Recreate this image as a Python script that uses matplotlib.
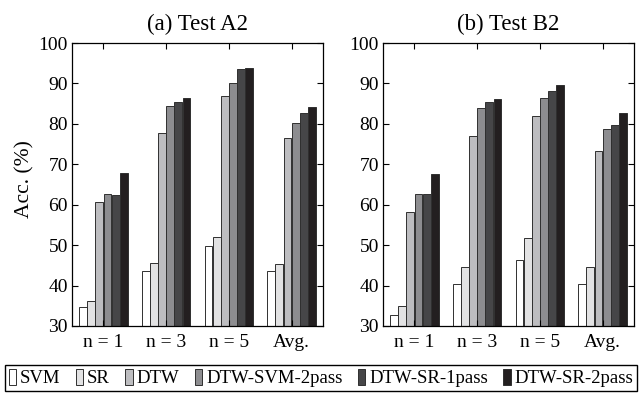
import numpy as np
import matplotlib
matplotlib.use("Agg")
import matplotlib.pyplot as plt

plt.rcParams["font.family"] = ["Liberation Serif", "DejaVu Serif"]

groups = ["n = 1", "n = 3", "n = 5", "Avg."]
methods = ["SVM", "SR", "DTW", "DTW-SVM-2pass", "DTW-SR-1pass", "DTW-SR-2pass"]
colors = ["#ffffff", "#e2e2e3", "#bdbdc0", "#8d8d90", "#464648", "#231f20"]

# accuracy (%) per method, one entry per group
test_a2 = {
    "SVM": [34.8, 43.5, 49.9, 43.5],
    "SR": [36.2, 45.5, 51.9, 45.3],
    "DTW": [60.7, 77.8, 86.8, 76.6],
    "DTW-SVM-2pass": [62.6, 84.3, 90.0, 80.1],
    "DTW-SR-1pass": [62.5, 85.4, 93.6, 82.6],
    "DTW-SR-2pass": [67.9, 86.3, 93.8, 84.2],
}
test_b2 = {
    "SVM": [32.6, 40.4, 46.4, 40.3],
    "SR": [35.0, 44.7, 51.7, 44.7],
    "DTW": [58.2, 77.0, 82.0, 73.4],
    "DTW-SVM-2pass": [62.7, 83.9, 86.5, 78.8],
    "DTW-SR-1pass": [62.7, 85.4, 88.2, 79.8],
    "DTW-SR-2pass": [67.6, 86.2, 89.6, 82.6],
}
titles = ["(a) Test A2", "(b) Test B2"]

fig = plt.figure(figsize=(6.41, 3.96), dpi=100)
ax1 = fig.add_axes([72 / 641, 1 - 326 / 396, 251 / 641, 283 / 396])
ax2 = fig.add_axes([383 / 641, 1 - 326 / 396, 251 / 641, 283 / 396])

x = np.arange(1, len(groups) + 1)
w = 0.125
handles = []
for ax, data, title in zip([ax1, ax2], [test_a2, test_b2], titles):
    for i, m in enumerate(methods):
        b = ax.bar(x + (i - 2.5) * 0.13, data[m], width=w, bottom=0,
                   color=colors[i], edgecolor="#303030", linewidth=0.7, label=m)
        if ax is ax1:
            handles.append(b)
    ax.set_xlim(0.5, 4.5)
    ax.set_ylim(30, 100)
    ax.set_xticks(x)
    ax.set_xticklabels(groups, fontsize=14)
    ax.set_yticks(range(30, 101, 10))
    ax.tick_params(axis="y", labelsize=14, direction="in", right=True, length=4, pad=3)
    ax.tick_params(axis="x", direction="in", top=True, length=4, pad=6)
    ax.set_title(title, fontsize=16.5, pad=9)
    for s in ax.spines.values():
        s.set_linewidth(0.9)

ax1.set_ylabel("Acc. (%)", fontsize=15.5)
ax1.yaxis.set_label_coords(-0.15, 0.52)

fig.legend(handles, methods, loc="lower left", ncol=6, mode="expand",
           bbox_to_anchor=(5 / 641, 1 - 391 / 396, 632 / 641, 26 / 396),
           fontsize=13.5, handlelength=0.4, handleheight=0.95,
           handletextpad=0.2, columnspacing=0.4, borderaxespad=0,
           borderpad=0.2, fancybox=False, edgecolor="black", framealpha=1)

fig.savefig("out.png", dpi=100)
